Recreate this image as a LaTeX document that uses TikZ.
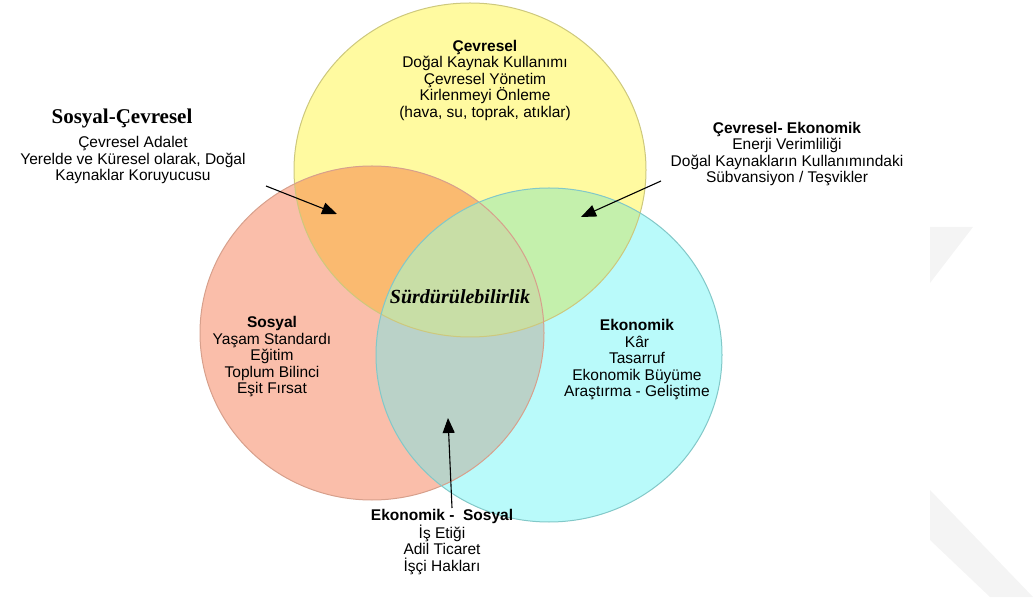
\documentclass[tikz,border=0pt]{standalone}
\usepackage{fontspec}
\setmainfont{Liberation Sans}
\newfontfamily\serifont{Liberation Serif}
\usetikzlibrary{arrows.meta}

\definecolor{cevreFill}{RGB}{255,250,160}
\definecolor{sosyalFill}{RGB}{250,190,170}
\definecolor{ekonomiFill}{RGB}{185,250,250}
\definecolor{scFill}{RGB}{250,186,112}
\definecolor{ceFill}{RGB}{196,240,172}
\definecolor{esFill}{RGB}{186,210,200}
\definecolor{allFill}{RGB}{200,222,166}
\definecolor{cevreLine}{RGB}{205,200,125}
\definecolor{sosyalLine}{RGB}{215,160,140}
\definecolor{ekonomiLine}{RGB}{130,200,200}

\newcommand\cevreCirc{(470,438) ellipse (176 and 167)}
\newcommand\sosyalCirc{(372,275) ellipse (172 and 167)}
\newcommand\ekonomiCirc{(549,253) ellipse (173 and 167)}

\begin{document}
\begin{tikzpicture}[x=1pt,y=1pt,
  lbl/.style={font=\fontsize{15.5}{16.5}\selectfont, align=center, inner sep=0pt},
  pointer/.style={black, line width=1.1pt, -{Triangle[length=15pt,width=12pt]}}]
  \useasboundingbox (0,0) rectangle (1033,608);
  % faint background marks on the right
  \fill[gray!9] (930,381) -- (973,381) -- (930,325) -- cycle;
  \fill[gray!9] (930,118) -- (1033,11) -- (990,11) -- (930,68) -- cycle;
  % the three circles
  \fill[cevreFill] \cevreCirc;
  \fill[sosyalFill] \sosyalCirc;
  \fill[ekonomiFill] \ekonomiCirc;
  % overlaps
  \begin{scope}
    \clip \cevreCirc;
    \fill[scFill] \sosyalCirc;
    \fill[ceFill] \ekonomiCirc;
  \end{scope}
  \begin{scope}
    \clip \sosyalCirc;
    \fill[esFill] \ekonomiCirc;
  \end{scope}
  \begin{scope}
    \clip \cevreCirc;
    \clip \sosyalCirc;
    \fill[allFill] \ekonomiCirc;
  \end{scope}
  % outlines
  \draw[cevreLine, line width=1pt] \cevreCirc;
  \draw[sosyalLine, line width=1pt] \sosyalCirc;
  \draw[ekonomiLine, line width=1pt] \ekonomiCirc;
  % circle texts
  \node[lbl] (cevre) at (485,528) {\textbf{Çevresel}\\Doğal Kaynak Kullanımı\\Çevresel Yönetim\\Kirlenmeyi Önleme\\(hava, su, toprak, atıklar)};
  \node[lbl] (sosyal) at (272,251) {\textbf{Sosyal}\\Yaşam Standardı\\Eğitim\\Toplum Bilinci\\Eşit Fırsat};
  \node[lbl] (ekonomi) at (637,248) {\textbf{Ekonomik}\\Kâr\\Tasarruf\\Ekonomik Büyüme\\Araştırma - Geliştime};
  \node[font=\serifont\bfseries\itshape\fontsize{20}{22}\selectfont, inner sep=0pt] (surdur) at (460,311) {Sürdürülebilirlik};
  % outside labels
  \node[font=\serifont\bfseries\fontsize{21}{23}\selectfont, inner sep=0pt] (scTitle) at (122,490) {Sosyal-Çevresel};
  \node[lbl] (scText) at (133,448) {Çevresel Adalet\\Yerelde ve Küresel olarak, Doğal\\Kaynaklar Koruyucusu};
  \node[lbl] (ceText) at (787,454) {\textbf{Çevresel- Ekonomik}\\Enerji Verimliliği\\Doğal Kaynakların Kullanımındaki\\Sübvansiyon / Teşvikler};
  \node[lbl] (esText) at (442,66) {\textbf{Ekonomik -\ \ Sosyal}\\İş Etiği\\Adil Ticaret\\İşçi Hakları};
  % pointers
  \coordinate (scFrom) at (266,422);
  \coordinate (scTo) at (337,394);
  \coordinate (ceFrom) at (661,427);
  \coordinate (ceTo) at (581,391);
  \coordinate (esFrom) at (452,100);
  \coordinate (esTo) at (448,190);
  \draw[pointer] (scFrom) -- (scTo);
  \draw[pointer] (ceFrom) -- (ceTo);
  \draw[pointer] (esFrom) -- (esTo);
\end{tikzpicture}
\end{document}
